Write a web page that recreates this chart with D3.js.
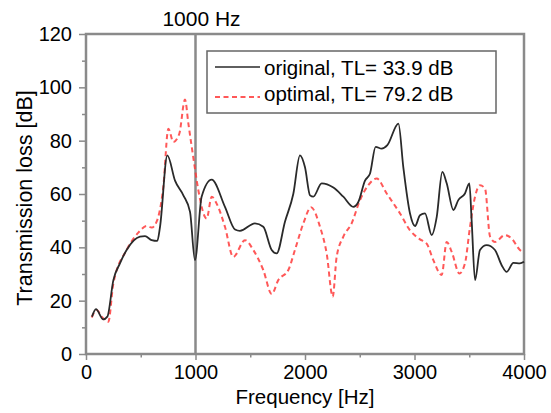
<!DOCTYPE html>
<html>
<head>
<meta charset="utf-8">
<script src="https://cdn.jsdelivr.net/npm/d3@7"></script>
<style>
  body { margin: 0; background: #fff; }
  svg { font-family: "Liberation Sans", Arial, sans-serif; }
</style>
</head>
<body>
<div id="chart"></div>
<script>
// original design, sampled off the curve
var origFreq = [55, 91, 158, 195, 250, 310, 371, 493, 539, 600, 651, 676, 743, 813, 889, 950, 995, 1056, 1148, 1269, 1361, 1406, 1543, 1619, 1696, 1741, 1817, 1893, 1954, 2000, 2046, 2076, 2152, 2259, 2350, 2441, 2487, 2548, 2594, 2645, 2700, 2752, 2853, 2898, 2959, 3005, 3050, 3096, 3157, 3203, 3254, 3294, 3355, 3400, 3461, 3501, 3522, 3553, 3598, 3659, 3735, 3796, 3842, 3903, 3963, 4000];
var origTL = [14, 16.8, 13, 14, 27.7, 34, 39, 44, 44.2, 42.7, 42.4, 47.7, 74.5, 65, 59.5, 53.3, 35.2, 59, 65.4, 55.2, 46.7, 46.2, 49, 47.7, 39, 37.7, 49.6, 60, 74.5, 70, 59.5, 59, 64, 62.4, 59, 55.2, 57, 65, 67.7, 77.7, 77, 78.3, 86.4, 70, 52.7, 48, 52, 52.7, 44.6, 51.4, 68.3, 64, 54, 57.7, 60.2, 64, 50, 27.7, 39, 40.8, 39, 33.3, 30.8, 34.2, 34, 34.6];

// optimal design
var optFreq = [52, 98, 143, 204, 250, 371, 478, 554, 600, 645, 706, 752, 798, 852, 904, 935, 995, 1026, 1102, 1148, 1193, 1269, 1345, 1452, 1528, 1619, 1696, 1756, 1848, 1908, 1985, 2055, 2137, 2198, 2253, 2289, 2350, 2426, 2502, 2578, 2655, 2746, 2868, 2959, 3050, 3111, 3172, 3248, 3294, 3340, 3410, 3461, 3507, 3553, 3598, 3644, 3690, 3735, 3826, 3887, 3963, 4000];
var optTL = [13.7, 16.5, 14, 12.1, 26.5, 39, 45.5, 48, 47.4, 49.6, 62.7, 84.5, 79.5, 82.6, 95.4, 86.4, 69.5, 61.4, 50.8, 59, 56.4, 47.7, 36.4, 42.7, 39, 31.5, 22.5, 27.7, 31.5, 39, 49, 55, 47.7, 37.7, 21.5, 36.4, 44, 49, 57.7, 63.3, 65.8, 60.2, 52.7, 46.4, 43, 41.4, 35.2, 29.6, 42, 38.3, 30.2, 34, 47.7, 59, 63.3, 62, 44, 42, 44.6, 43.3, 39, 38];

var xTicks = [0, 1000, 2000, 3000, 4000];
var yTicks = [0, 20, 40, 60, 80, 100, 120];
var markFreq = 1000;
var legendLabels = ["original, TL= 33.9 dB", "optimal, TL= 79.2 dB"];

var margin = {top: 34, right: 27, bottom: 59, left: 86};
var width = 551 - margin.left - margin.right,
    height = 413 - margin.top - margin.bottom;

var svg = d3.select("#chart").append("svg")
    .attr("width", 551)
    .attr("height", 413);

var g = svg.append("g")
    .attr("transform", "translate(" + margin.left + "," + margin.top + ")");

var x = d3.scaleLinear().domain([0, 4000]).range([0, width]);
var y = d3.scaleLinear().domain([0, 120]).range([height, 0]);

var axisColor = "#8a8a8a";

// minor ticks
g.append("g")
    .attr("transform", "translate(0," + height + ")")
    .call(d3.axisBottom(x).tickValues(d3.range(500, 4000, 1000)).tickSize(3.5).tickFormat(""))
    .call(function (a) { a.select(".domain").remove(); a.selectAll("line").attr("stroke", axisColor).attr("stroke-width", 1.5); });
g.append("g")
    .call(d3.axisLeft(y).tickValues(d3.range(10, 120, 20)).tickSize(4).tickFormat(""))
    .call(function (a) { a.select(".domain").remove(); a.selectAll("line").attr("stroke", axisColor).attr("stroke-width", 1.5); });

// major ticks + labels
g.append("g")
    .attr("transform", "translate(0," + height + ")")
    .call(d3.axisBottom(x).tickValues(xTicks).tickSize(6).tickPadding(5).tickFormat(d3.format("d")))
    .call(function (a) {
        a.select(".domain").remove();
        a.selectAll("line").attr("stroke", axisColor).attr("stroke-width", 1.5);
        a.selectAll("text").attr("fill", "#000").style("font-size", "20px");
    });
g.append("g")
    .call(d3.axisLeft(y).tickValues(yTicks).tickSize(7).tickPadding(7))
    .call(function (a) {
        a.select(".domain").remove();
        a.selectAll("line").attr("stroke", axisColor).attr("stroke-width", 1.5);
        a.selectAll("text").attr("fill", "#000").style("font-size", "20px");
    });

// frame
g.append("rect")
    .attr("x", 0).attr("y", 0)
    .attr("width", width).attr("height", height)
    .attr("fill", "none")
    .attr("stroke", axisColor)
    .attr("stroke-width", 2.5);

// 1000 Hz marker
g.append("line")
    .attr("x1", x(markFreq)).attr("x2", x(markFreq))
    .attr("y1", 0).attr("y2", height)
    .attr("stroke", axisColor)
    .attr("stroke-width", 2.5);
g.append("text")
    .attr("x", x(markFreq) + 6)
    .attr("y", -8)
    .attr("text-anchor", "middle")
    .style("font-size", "21px")
    .text(markFreq + " Hz");

var line = d3.line()
    .x(function (d) { return x(d[0]); })
    .y(function (d) { return y(d[1]); })
    .curve(d3.curveMonotoneX);

var origData = origFreq.map(function (f, i) { return [f, origTL[i]]; });
var optData = optFreq.map(function (f, i) { return [f, optTL[i]]; });

g.append("path")
    .datum(optData)
    .attr("d", line)
    .attr("fill", "none")
    .attr("stroke", "#ff3b3b")
    .attr("stroke-opacity", 0.85)
    .attr("stroke-width", 2)
    .attr("stroke-dasharray", "5,3.5");

g.append("path")
    .datum(origData)
    .attr("d", line)
    .attr("fill", "none")
    .attr("stroke", "#2a2a2a")
    .attr("stroke-width", 1.8);

// legend
var lg = svg.append("g");
lg.append("rect")
    .attr("x", 207).attr("y", 51)
    .attr("width", 289).attr("height", 62)
    .attr("fill", "#fff")
    .attr("stroke", "#666")
    .attr("stroke-width", 1.5);

lg.append("line")
    .attr("x1", 215).attr("x2", 260).attr("y1", 67).attr("y2", 67)
    .attr("stroke", "#2a2a2a").attr("stroke-width", 1.6);
lg.append("line")
    .attr("x1", 215).attr("x2", 260).attr("y1", 97).attr("y2", 97)
    .attr("stroke", "#ff3b3b").attr("stroke-opacity", 0.85)
    .attr("stroke-width", 2).attr("stroke-dasharray", "5,3.5");

lg.selectAll("text.leg")
    .data(legendLabels)
    .enter().append("text")
    .attr("class", "leg")
    .attr("x", 264)
    .attr("y", function (d, i) { return 75 + i * 26; })
    .style("font-size", "20.5px")
    .text(function (d) { return d; });

// axis titles
svg.append("text")
    .attr("x", margin.left + width / 2)
    .attr("y", 404)
    .attr("text-anchor", "middle")
    .style("font-size", "20.5px")
    .text("Frequency [Hz]");

svg.append("text")
    .attr("transform", "translate(32,198) rotate(-90)")
    .attr("text-anchor", "middle")
    .style("font-size", "21.5px")
    .text("Transmission loss [dB]");
</script>
</body>
</html>
